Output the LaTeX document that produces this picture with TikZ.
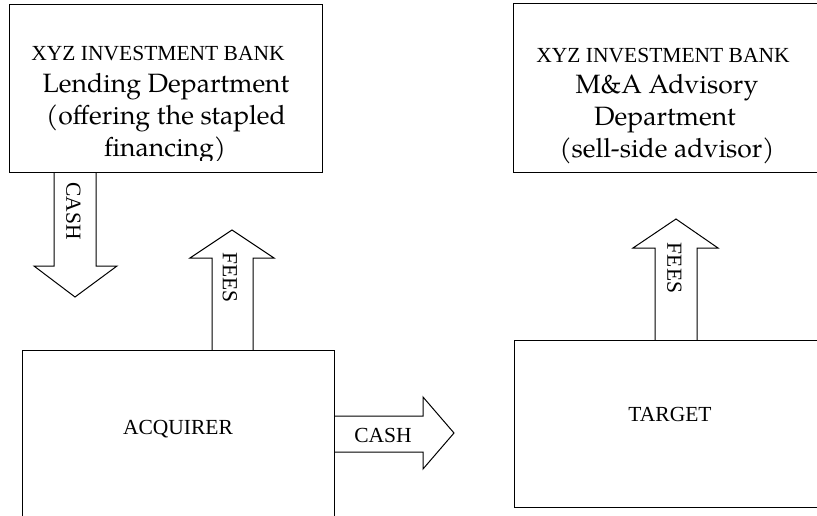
\documentclass[tikz,border=0pt]{standalone}
\usepackage{fontspec}
\setmainfont{Liberation Serif}
\newfontfamily\pala{TeX Gyre Pagella}
\begin{document}
\begin{tikzpicture}[x=1pt,y=-1pt,line width=1pt,
  box/.style={draw,rectangle,inner sep=0pt,outer sep=0pt,anchor=north west},
  captext/.style={font=\fontsize{21.5}{26}\selectfont,inner sep=0pt},
  bigtext/.style={font=\pala\fontsize{26.5}{32}\selectfont,inner sep=0pt,anchor=base},
  flow/.style={draw,line join=miter}]
\useasboundingbox (0,0) rectangle (817,515);
\clip (0,0) rectangle (817,515);
% boxes
\node[box,minimum width=313pt,minimum height=168pt] (lend) at (9,4) {};
\node[box,minimum width=340pt,minimum height=169pt] (adv) at (513,3) {};
\node[box,minimum width=312pt,minimum height=260pt] (acq) at (22,350) {};
\node[box,minimum width=380pt,minimum height=167pt] (tgt) at (514,340) {};
% texts of the lending box
\node[captext,anchor=base] (lendA) at (158,60) {XYZ INVESTMENT BANK};
\begin{scope}
\clip (9,4) rectangle (322,160);
\node[bigtext] (lendB) at (166,92) {Lending Department};
\node[bigtext] (lendC) at (166,124) {(offering the stapled};
\node[bigtext] (lendD) at (165,156) {financing)};
\end{scope}
% texts of the advisory box
\node[captext,anchor=base] (advA) at (663,62) {XYZ INVESTMENT BANK};
\node[bigtext] (advB) at (667,93) {M\&A Advisory};
\node[bigtext] (advC) at (665,125) {Department};
\node[bigtext] (advD) at (667,157) {(sell-side advisor)};
% box labels
\node[captext,anchor=base] (acqL) at (178,434) {ACQUIRER};
\node[captext,anchor=base] (tgtL) at (670,421) {TARGET};
% block arrows
\draw[flow] (54,172) |- (34,266) -- (75,297) -- (117,266) -| (96,172);
\draw[flow] (212,350) |- (190,258) -- (232,230) -- (274,258) -| (253,350);
\draw[flow] (655,340) |- (633,248) -- (676,219) -- (718,248) -| (697,340);
\draw[flow] (334,416) -| (423,397) -- (454,433) -- (423,469) |- (334,452);
% arrow labels
\node[captext,rotate=-90] (cashV) at (73.5,211) {CASH};
\node[captext,rotate=-90] (feesL) at (230,277.5) {FEES};
\node[captext,rotate=-90] (feesR) at (674.5,268) {FEES};
\node[captext,anchor=base] (cashH) at (383,442) {CASH};
\end{tikzpicture}
\end{document}
